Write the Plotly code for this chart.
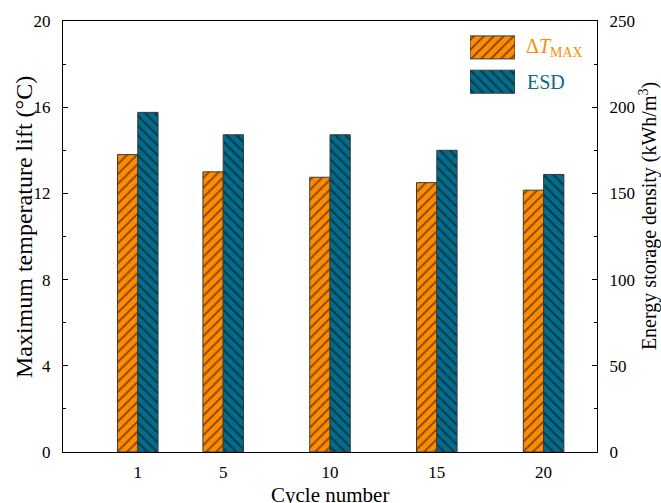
import plotly.graph_objects as go

# Cycle numbers and measured quantities
cycles = [1, 5, 10, 15, 20]
dt_max = [13.8, 13.0, 12.75, 12.5, 12.15]      # maximum temperature lift, °C
esd = [197, 184, 184, 175, 161]                 # energy storage density, kWh/m3

ORANGE = "#FF8C00"
TEAL = "#036C8A"
EDGE = "#3a3a3a"
FONT = "Liberation Serif, Times New Roman, serif"

W, H = 661, 503
L, R, T, B = 63, 64, 19, 51
PW, PH = W - L - R, H - T - B


def px_x(x):
    return (x - L) / PW


def px_y(y):
    return (H - B - y) / PH


def pattern(shape):
    return dict(shape=shape, fgcolor="black", size=7, solidity=0.27)


def font(size, color="black"):
    return dict(family=FONT, size=size, color=color)


fig = go.Figure()

fig.add_trace(go.Bar(
    x=cycles, y=dt_max, name="ΔT_MAX", width=0.95, offset=-0.95,
    marker=dict(color=ORANGE, line=dict(color=EDGE, width=1), pattern=pattern("/")),
    xaxis="x", yaxis="y", showlegend=False,
))
fig.add_trace(go.Bar(
    x=cycles, y=esd, name="ESD", width=0.95, offset=0.0,
    marker=dict(color=TEAL, line=dict(color=EDGE, width=1), pattern=pattern("\\")),
    xaxis="x", yaxis="y2", showlegend=False,
))

# Legend swatches drawn as patterned bars on a small auxiliary axis pair
fig.add_trace(go.Bar(
    y=[1], x=[1], orientation="h", width=0.67, base=0,
    marker=dict(color=ORANGE, line=dict(color=EDGE, width=1), pattern=pattern("/")),
    xaxis="x3", yaxis="y3", showlegend=False, hoverinfo="skip",
))
fig.add_trace(go.Bar(
    y=[0], x=[1], orientation="h", width=0.67, base=0,
    marker=dict(color=TEAL, line=dict(color=EDGE, width=1), pattern=pattern("\\")),
    xaxis="x3", yaxis="y3", showlegend=False, hoverinfo="skip",
))

fig.update_layout(
    width=W, height=H,
    margin=dict(l=L, r=R, t=T, b=B, pad=0),
    paper_bgcolor="white", plot_bgcolor="white",
    barmode="overlay",
    font=font(17),
    xaxis=dict(
        range=[-2.5, 22.5], tickvals=cycles, ticktext=[str(c) for c in cycles],
        ticks="", showgrid=False, zeroline=False,
        showline=True, linecolor="black", linewidth=1.2, mirror=True,
        tickfont=font(17), ticklabelstandoff=4,
    ),
    yaxis=dict(
        range=[0, 20], tickvals=[0, 4, 8, 12, 16, 20],
        ticks="inside", ticklen=5, tickwidth=1, tickcolor="black",
        minor=dict(tickvals=[2, 6, 10, 14, 18], ticks="inside", ticklen=3,
                   tickwidth=1, tickcolor="black"),
        showgrid=False, zeroline=False,
        showline=True, linecolor="black", linewidth=1.2,
        tickfont=font(17), ticklabelstandoff=8,
    ),
    yaxis2=dict(
        range=[0, 250], tickvals=[0, 50, 100, 150, 200, 250],
        overlaying="y", side="right",
        ticks="inside", ticklen=5, tickwidth=1, tickcolor="black",
        minor=dict(tickvals=[25, 75, 125, 175, 225], ticks="inside", ticklen=3,
                   tickwidth=1, tickcolor="black"),
        showgrid=False, zeroline=False,
        showline=True, linecolor="black", linewidth=1.2,
        tickfont=font(17), ticklabelstandoff=8,
    ),
    xaxis3=dict(domain=[px_x(470), px_x(515)], range=[0, 1], visible=False,
                anchor="y3", fixedrange=True),
    yaxis3=dict(domain=[px_y(97.25), px_y(28.25)], range=[-0.5, 1.5], visible=False,
                anchor="x3", fixedrange=True),
    annotations=[
        # axis titles
        dict(text="Cycle number", x=0.5, y=px_y(495), xref="paper", yref="paper",
             xanchor="center", yanchor="middle", showarrow=False, font=font(21)),
        dict(text="Maximum temperature lift (°C)", x=px_x(24), y=px_y(226),
             xref="paper", yref="paper", textangle=-90,
             xanchor="center", yanchor="middle", showarrow=False, font=font(24)),
        dict(text="Energy storage density (kWh/m<sup>3</sup>)", x=px_x(648), y=px_y(215),
             xref="paper", yref="paper", textangle=-90,
             xanchor="center", yanchor="middle", showarrow=False, font=font(20)),
        # legend labels
        dict(text="Δ<i>T</i><sub>MAX</sub>", x=px_x(524), y=px_y(46), xref="paper", yref="paper",
             xanchor="left", yanchor="middle", showarrow=False, font=font(20, ORANGE)),
        dict(text="ESD", x=px_x(525), y=px_y(80), xref="paper", yref="paper",
             xanchor="left", yanchor="middle", showarrow=False, font=font(20, TEAL)),
    ],
)

fig.write_html("out.html")
